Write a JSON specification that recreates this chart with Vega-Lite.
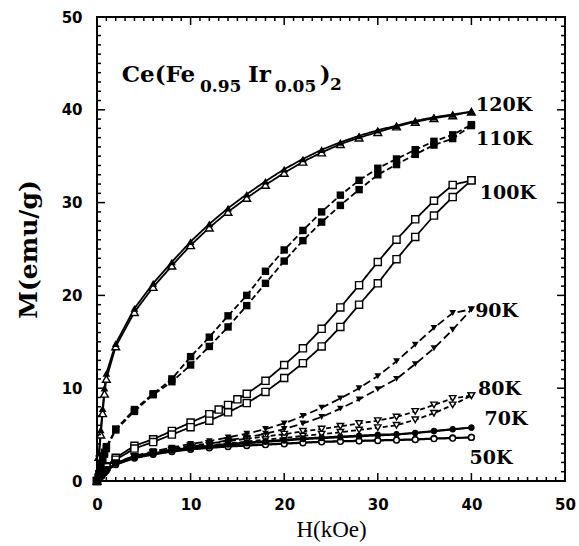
{
  "$schema": "https://vega.github.io/schema/vega-lite/v6.json",
  "width": 468,
  "height": 464,
  "autosize": "none",
  "padding": {"left": 97, "top": 17, "right": 14, "bottom": 65},
  "background": "white",
  "config": {
    "view": {"stroke": null},
    "axis": {"grid": false, "domain": false, "ticks": false, "labelColor": "black", "titleColor": "black", "labelFlush": false, "labelOverlap": false, "labelBound": false}
  },
  "datasets": {
    "mag": [
      {"T":"120K","b":"a","H":0,"M":0},{"T":"120K","b":"a","H":0.2,"M":3.0},{"T":"120K","b":"a","H":0.4,"M":5.5},{"T":"120K","b":"a","H":0.6,"M":7.8},{"T":"120K","b":"a","H":0.8,"M":10.0},{"T":"120K","b":"a","H":1,"M":11.6},{"T":"120K","b":"a","H":2,"M":14.8},{"T":"120K","b":"a","H":4,"M":18.6},{"T":"120K","b":"a","H":6,"M":21.3},{"T":"120K","b":"a","H":8,"M":23.6},{"T":"120K","b":"a","H":10,"M":25.8},{"T":"120K","b":"a","H":12,"M":27.7},{"T":"120K","b":"a","H":14,"M":29.4},{"T":"120K","b":"a","H":16,"M":30.9},{"T":"120K","b":"a","H":18,"M":32.3},{"T":"120K","b":"a","H":20,"M":33.6},{"T":"120K","b":"a","H":22,"M":34.7},{"T":"120K","b":"a","H":24,"M":35.7},{"T":"120K","b":"a","H":26,"M":36.5},{"T":"120K","b":"a","H":28,"M":37.2},{"T":"120K","b":"a","H":30,"M":37.8},{"T":"120K","b":"a","H":32,"M":38.3},{"T":"120K","b":"a","H":34,"M":38.8},{"T":"120K","b":"a","H":36,"M":39.2},{"T":"120K","b":"a","H":38,"M":39.5},{"T":"120K","b":"a","H":40,"M":39.8},
      {"T":"120K","b":"b","H":0,"M":0},{"T":"120K","b":"b","H":0.2,"M":2.6},{"T":"120K","b":"b","H":0.4,"M":5.0},{"T":"120K","b":"b","H":0.6,"M":7.3},{"T":"120K","b":"b","H":0.8,"M":9.4},{"T":"120K","b":"b","H":1,"M":11.0},{"T":"120K","b":"b","H":2,"M":14.5},{"T":"120K","b":"b","H":4,"M":18.2},{"T":"120K","b":"b","H":6,"M":20.9},{"T":"120K","b":"b","H":8,"M":23.2},{"T":"120K","b":"b","H":10,"M":25.4},{"T":"120K","b":"b","H":12,"M":27.3},{"T":"120K","b":"b","H":14,"M":29.0},{"T":"120K","b":"b","H":16,"M":30.5},{"T":"120K","b":"b","H":18,"M":31.9},{"T":"120K","b":"b","H":20,"M":33.2},{"T":"120K","b":"b","H":22,"M":34.4},{"T":"120K","b":"b","H":24,"M":35.4},{"T":"120K","b":"b","H":26,"M":36.3},{"T":"120K","b":"b","H":28,"M":37.0},{"T":"120K","b":"b","H":30,"M":37.6},{"T":"120K","b":"b","H":32,"M":38.2},{"T":"120K","b":"b","H":34,"M":38.7},{"T":"120K","b":"b","H":36,"M":39.1},{"T":"120K","b":"b","H":38,"M":39.4},{"T":"120K","b":"b","H":40,"M":39.8},
      {"T":"110K","b":"a","H":0,"M":0},{"T":"110K","b":"a","H":0.2,"M":0.8},{"T":"110K","b":"a","H":0.4,"M":1.6},{"T":"110K","b":"a","H":0.6,"M":2.4},{"T":"110K","b":"a","H":0.8,"M":3.1},{"T":"110K","b":"a","H":1,"M":3.7},{"T":"110K","b":"a","H":2,"M":5.6},{"T":"110K","b":"a","H":4,"M":7.7},{"T":"110K","b":"a","H":6,"M":9.4},{"T":"110K","b":"a","H":8,"M":11.0},{"T":"110K","b":"a","H":10,"M":13.4},{"T":"110K","b":"a","H":12,"M":15.5},{"T":"110K","b":"a","H":14,"M":17.8},{"T":"110K","b":"a","H":16,"M":20.0},{"T":"110K","b":"a","H":18,"M":22.6},{"T":"110K","b":"a","H":20,"M":24.9},{"T":"110K","b":"a","H":22,"M":27.0},{"T":"110K","b":"a","H":24,"M":29.0},{"T":"110K","b":"a","H":26,"M":30.8},{"T":"110K","b":"a","H":28,"M":32.4},{"T":"110K","b":"a","H":30,"M":33.7},{"T":"110K","b":"a","H":32,"M":34.7},{"T":"110K","b":"a","H":34,"M":35.7},{"T":"110K","b":"a","H":36,"M":36.6},{"T":"110K","b":"a","H":38,"M":37.3},{"T":"110K","b":"a","H":40,"M":38.4},
      {"T":"110K","b":"b","H":0,"M":0},{"T":"110K","b":"b","H":0.2,"M":0.7},{"T":"110K","b":"b","H":0.4,"M":1.5},{"T":"110K","b":"b","H":0.6,"M":2.2},{"T":"110K","b":"b","H":0.8,"M":2.9},{"T":"110K","b":"b","H":1,"M":3.5},{"T":"110K","b":"b","H":2,"M":5.5},{"T":"110K","b":"b","H":4,"M":7.5},{"T":"110K","b":"b","H":6,"M":9.3},{"T":"110K","b":"b","H":8,"M":10.7},{"T":"110K","b":"b","H":10,"M":12.5},{"T":"110K","b":"b","H":12,"M":14.5},{"T":"110K","b":"b","H":14,"M":16.6},{"T":"110K","b":"b","H":16,"M":18.9},{"T":"110K","b":"b","H":18,"M":21.3},{"T":"110K","b":"b","H":20,"M":23.7},{"T":"110K","b":"b","H":22,"M":25.9},{"T":"110K","b":"b","H":24,"M":27.9},{"T":"110K","b":"b","H":26,"M":29.7},{"T":"110K","b":"b","H":28,"M":31.4},{"T":"110K","b":"b","H":30,"M":33.0},{"T":"110K","b":"b","H":32,"M":34.1},{"T":"110K","b":"b","H":34,"M":35.2},{"T":"110K","b":"b","H":36,"M":36.2},{"T":"110K","b":"b","H":38,"M":36.9},{"T":"110K","b":"b","H":40,"M":38.3},
      {"T":"100K","b":"a","H":0,"M":0},{"T":"100K","b":"a","H":0.2,"M":0.4},{"T":"100K","b":"a","H":0.4,"M":0.8},{"T":"100K","b":"a","H":0.6,"M":1.1},{"T":"100K","b":"a","H":0.8,"M":1.4},{"T":"100K","b":"a","H":1,"M":1.6},{"T":"100K","b":"a","H":2,"M":2.5},{"T":"100K","b":"a","H":4,"M":3.8},{"T":"100K","b":"a","H":6,"M":4.5},{"T":"100K","b":"a","H":8,"M":5.4},{"T":"100K","b":"a","H":10,"M":6.3},{"T":"100K","b":"a","H":12,"M":7.2},{"T":"100K","b":"a","H":13,"M":7.7},{"T":"100K","b":"a","H":14,"M":8.2},{"T":"100K","b":"a","H":15,"M":8.8},{"T":"100K","b":"a","H":16,"M":9.4},{"T":"100K","b":"a","H":18,"M":10.8},{"T":"100K","b":"a","H":20,"M":12.5},{"T":"100K","b":"a","H":22,"M":14.3},{"T":"100K","b":"a","H":24,"M":16.4},{"T":"100K","b":"a","H":26,"M":18.7},{"T":"100K","b":"a","H":28,"M":21.1},{"T":"100K","b":"a","H":30,"M":23.6},{"T":"100K","b":"a","H":32,"M":26.0},{"T":"100K","b":"a","H":34,"M":28.2},{"T":"100K","b":"a","H":36,"M":30.2},{"T":"100K","b":"a","H":38,"M":31.9},{"T":"100K","b":"a","H":40,"M":32.4},
      {"T":"100K","b":"b","H":0,"M":0},{"T":"100K","b":"b","H":0.2,"M":0.35},{"T":"100K","b":"b","H":0.4,"M":0.7},{"T":"100K","b":"b","H":0.6,"M":1.0},{"T":"100K","b":"b","H":0.8,"M":1.3},{"T":"100K","b":"b","H":1,"M":1.5},{"T":"100K","b":"b","H":2,"M":2.3},{"T":"100K","b":"b","H":4,"M":3.5},{"T":"100K","b":"b","H":6,"M":4.2},{"T":"100K","b":"b","H":8,"M":5.0},{"T":"100K","b":"b","H":10,"M":5.8},{"T":"100K","b":"b","H":12,"M":6.5},{"T":"100K","b":"b","H":14,"M":7.4},{"T":"100K","b":"b","H":16,"M":8.4},{"T":"100K","b":"b","H":18,"M":9.6},{"T":"100K","b":"b","H":20,"M":11.1},{"T":"100K","b":"b","H":22,"M":12.7},{"T":"100K","b":"b","H":24,"M":14.5},{"T":"100K","b":"b","H":26,"M":16.6},{"T":"100K","b":"b","H":28,"M":19.0},{"T":"100K","b":"b","H":30,"M":21.3},{"T":"100K","b":"b","H":32,"M":23.9},{"T":"100K","b":"b","H":34,"M":26.3},{"T":"100K","b":"b","H":36,"M":28.6},{"T":"100K","b":"b","H":38,"M":30.6},{"T":"100K","b":"b","H":40,"M":32.4},
      {"T":"90K","b":"a","H":0,"M":0},{"T":"90K","b":"a","H":0.2,"M":0.3},{"T":"90K","b":"a","H":0.4,"M":0.6},{"T":"90K","b":"a","H":0.6,"M":0.9},{"T":"90K","b":"a","H":0.8,"M":1.1},{"T":"90K","b":"a","H":1,"M":1.3},{"T":"90K","b":"a","H":2,"M":2.0},{"T":"90K","b":"a","H":4,"M":2.7},{"T":"90K","b":"a","H":6,"M":3.2},{"T":"90K","b":"a","H":8,"M":3.6},{"T":"90K","b":"a","H":10,"M":4.0},{"T":"90K","b":"a","H":12,"M":4.3},{"T":"90K","b":"a","H":14,"M":4.7},{"T":"90K","b":"a","H":16,"M":5.1},{"T":"90K","b":"a","H":18,"M":5.6},{"T":"90K","b":"a","H":20,"M":6.2},{"T":"90K","b":"a","H":22,"M":7.0},{"T":"90K","b":"a","H":24,"M":7.9},{"T":"90K","b":"a","H":26,"M":8.9},{"T":"90K","b":"a","H":28,"M":10.0},{"T":"90K","b":"a","H":30,"M":11.3},{"T":"90K","b":"a","H":32,"M":12.9},{"T":"90K","b":"a","H":34,"M":14.7},{"T":"90K","b":"a","H":36,"M":16.5},{"T":"90K","b":"a","H":38,"M":18.1},{"T":"90K","b":"a","H":40,"M":18.5},
      {"T":"90K","b":"b","H":0,"M":0},{"T":"90K","b":"b","H":0.2,"M":0.3},{"T":"90K","b":"b","H":0.4,"M":0.55},{"T":"90K","b":"b","H":0.6,"M":0.85},{"T":"90K","b":"b","H":0.8,"M":1.05},{"T":"90K","b":"b","H":1,"M":1.25},{"T":"90K","b":"b","H":2,"M":1.9},{"T":"90K","b":"b","H":4,"M":2.6},{"T":"90K","b":"b","H":6,"M":3.0},{"T":"90K","b":"b","H":8,"M":3.4},{"T":"90K","b":"b","H":10,"M":3.7},{"T":"90K","b":"b","H":12,"M":4.0},{"T":"90K","b":"b","H":14,"M":4.4},{"T":"90K","b":"b","H":16,"M":4.7},{"T":"90K","b":"b","H":18,"M":5.1},{"T":"90K","b":"b","H":20,"M":5.6},{"T":"90K","b":"b","H":22,"M":6.2},{"T":"90K","b":"b","H":24,"M":6.9},{"T":"90K","b":"b","H":26,"M":7.8},{"T":"90K","b":"b","H":28,"M":8.8},{"T":"90K","b":"b","H":30,"M":9.9},{"T":"90K","b":"b","H":32,"M":11.0},{"T":"90K","b":"b","H":34,"M":12.6},{"T":"90K","b":"b","H":36,"M":14.3},{"T":"90K","b":"b","H":38,"M":16.3},{"T":"90K","b":"b","H":40,"M":18.5},
      {"T":"80K","b":"a","H":0,"M":0},{"T":"80K","b":"a","H":0.2,"M":0.3},{"T":"80K","b":"a","H":0.4,"M":0.6},{"T":"80K","b":"a","H":0.6,"M":0.85},{"T":"80K","b":"a","H":0.8,"M":1.05},{"T":"80K","b":"a","H":1,"M":1.25},{"T":"80K","b":"a","H":2,"M":1.95},{"T":"80K","b":"a","H":4,"M":2.65},{"T":"80K","b":"a","H":6,"M":3.1},{"T":"80K","b":"a","H":8,"M":3.45},{"T":"80K","b":"a","H":10,"M":3.8},{"T":"80K","b":"a","H":12,"M":4.05},{"T":"80K","b":"a","H":14,"M":4.3},{"T":"80K","b":"a","H":16,"M":4.55},{"T":"80K","b":"a","H":18,"M":4.8},{"T":"80K","b":"a","H":20,"M":5.05},{"T":"80K","b":"a","H":22,"M":5.35},{"T":"80K","b":"a","H":24,"M":5.6},{"T":"80K","b":"a","H":26,"M":5.9},{"T":"80K","b":"a","H":28,"M":6.2},{"T":"80K","b":"a","H":30,"M":6.5},{"T":"80K","b":"a","H":32,"M":6.9},{"T":"80K","b":"a","H":34,"M":7.5},{"T":"80K","b":"a","H":36,"M":8.2},{"T":"80K","b":"a","H":38,"M":8.9},{"T":"80K","b":"a","H":40,"M":9.2},
      {"T":"80K","b":"b","H":0,"M":0},{"T":"80K","b":"b","H":0.2,"M":0.3},{"T":"80K","b":"b","H":0.4,"M":0.55},{"T":"80K","b":"b","H":0.6,"M":0.8},{"T":"80K","b":"b","H":0.8,"M":1.0},{"T":"80K","b":"b","H":1,"M":1.2},{"T":"80K","b":"b","H":2,"M":1.9},{"T":"80K","b":"b","H":4,"M":2.6},{"T":"80K","b":"b","H":6,"M":3.0},{"T":"80K","b":"b","H":8,"M":3.3},{"T":"80K","b":"b","H":10,"M":3.6},{"T":"80K","b":"b","H":12,"M":3.85},{"T":"80K","b":"b","H":14,"M":4.05},{"T":"80K","b":"b","H":16,"M":4.25},{"T":"80K","b":"b","H":18,"M":4.45},{"T":"80K","b":"b","H":20,"M":4.65},{"T":"80K","b":"b","H":22,"M":4.85},{"T":"80K","b":"b","H":24,"M":5.05},{"T":"80K","b":"b","H":26,"M":5.25},{"T":"80K","b":"b","H":28,"M":5.5},{"T":"80K","b":"b","H":30,"M":5.75},{"T":"80K","b":"b","H":32,"M":6.0},{"T":"80K","b":"b","H":34,"M":6.6},{"T":"80K","b":"b","H":36,"M":7.3},{"T":"80K","b":"b","H":38,"M":8.2},{"T":"80K","b":"b","H":40,"M":9.2},
      {"T":"70K","b":"a","H":0,"M":0},{"T":"70K","b":"a","H":0.2,"M":0.3},{"T":"70K","b":"a","H":0.4,"M":0.55},{"T":"70K","b":"a","H":0.6,"M":0.8},{"T":"70K","b":"a","H":0.8,"M":1.0},{"T":"70K","b":"a","H":1,"M":1.2},{"T":"70K","b":"a","H":2,"M":1.9},{"T":"70K","b":"a","H":4,"M":2.6},{"T":"70K","b":"a","H":6,"M":3.0},{"T":"70K","b":"a","H":8,"M":3.35},{"T":"70K","b":"a","H":10,"M":3.6},{"T":"70K","b":"a","H":12,"M":3.8},{"T":"70K","b":"a","H":14,"M":4.0},{"T":"70K","b":"a","H":16,"M":4.15},{"T":"70K","b":"a","H":18,"M":4.3},{"T":"70K","b":"a","H":20,"M":4.45},{"T":"70K","b":"a","H":22,"M":4.6},{"T":"70K","b":"a","H":24,"M":4.7},{"T":"70K","b":"a","H":26,"M":4.8},{"T":"70K","b":"a","H":28,"M":4.9},{"T":"70K","b":"a","H":30,"M":5.0},{"T":"70K","b":"a","H":32,"M":5.05},{"T":"70K","b":"a","H":34,"M":5.2},{"T":"70K","b":"a","H":36,"M":5.4},{"T":"70K","b":"a","H":38,"M":5.6},{"T":"70K","b":"a","H":40,"M":5.75},
      {"T":"70K","b":"b","H":0,"M":0},{"T":"70K","b":"b","H":0.2,"M":0.28},{"T":"70K","b":"b","H":0.4,"M":0.52},{"T":"70K","b":"b","H":0.6,"M":0.76},{"T":"70K","b":"b","H":0.8,"M":0.96},{"T":"70K","b":"b","H":1,"M":1.15},{"T":"70K","b":"b","H":2,"M":1.85},{"T":"70K","b":"b","H":4,"M":2.5},{"T":"70K","b":"b","H":6,"M":2.9},{"T":"70K","b":"b","H":8,"M":3.25},{"T":"70K","b":"b","H":10,"M":3.5},{"T":"70K","b":"b","H":12,"M":3.7},{"T":"70K","b":"b","H":14,"M":3.9},{"T":"70K","b":"b","H":16,"M":4.05},{"T":"70K","b":"b","H":18,"M":4.2},{"T":"70K","b":"b","H":20,"M":4.35},{"T":"70K","b":"b","H":22,"M":4.5},{"T":"70K","b":"b","H":24,"M":4.6},{"T":"70K","b":"b","H":26,"M":4.7},{"T":"70K","b":"b","H":28,"M":4.8},{"T":"70K","b":"b","H":30,"M":4.9},{"T":"70K","b":"b","H":32,"M":5.0},{"T":"70K","b":"b","H":34,"M":5.15},{"T":"70K","b":"b","H":36,"M":5.35},{"T":"70K","b":"b","H":38,"M":5.55},{"T":"70K","b":"b","H":40,"M":5.75},
      {"T":"50K","b":"a","H":0,"M":0},{"T":"50K","b":"a","H":0.2,"M":0.3},{"T":"50K","b":"a","H":0.4,"M":0.5},{"T":"50K","b":"a","H":0.6,"M":0.75},{"T":"50K","b":"a","H":0.8,"M":0.95},{"T":"50K","b":"a","H":1,"M":1.15},{"T":"50K","b":"a","H":2,"M":1.8},{"T":"50K","b":"a","H":4,"M":2.5},{"T":"50K","b":"a","H":6,"M":2.9},{"T":"50K","b":"a","H":8,"M":3.2},{"T":"50K","b":"a","H":10,"M":3.45},{"T":"50K","b":"a","H":12,"M":3.6},{"T":"50K","b":"a","H":14,"M":3.75},{"T":"50K","b":"a","H":16,"M":3.85},{"T":"50K","b":"a","H":18,"M":3.95},{"T":"50K","b":"a","H":20,"M":4.05},{"T":"50K","b":"a","H":22,"M":4.15},{"T":"50K","b":"a","H":24,"M":4.25},{"T":"50K","b":"a","H":26,"M":4.3},{"T":"50K","b":"a","H":28,"M":4.35},{"T":"50K","b":"a","H":30,"M":4.4},{"T":"50K","b":"a","H":32,"M":4.45},{"T":"50K","b":"a","H":34,"M":4.5},{"T":"50K","b":"a","H":36,"M":4.6},{"T":"50K","b":"a","H":38,"M":4.65},{"T":"50K","b":"a","H":40,"M":4.7},
      {"T":"50K","b":"b","H":0,"M":0},{"T":"50K","b":"b","H":0.2,"M":0.27},{"T":"50K","b":"b","H":0.4,"M":0.47},{"T":"50K","b":"b","H":0.6,"M":0.7},{"T":"50K","b":"b","H":0.8,"M":0.9},{"T":"50K","b":"b","H":1,"M":1.1},{"T":"50K","b":"b","H":2,"M":1.75},{"T":"50K","b":"b","H":4,"M":2.45},{"T":"50K","b":"b","H":6,"M":2.85},{"T":"50K","b":"b","H":8,"M":3.15},{"T":"50K","b":"b","H":10,"M":3.4},{"T":"50K","b":"b","H":12,"M":3.55},{"T":"50K","b":"b","H":14,"M":3.7},{"T":"50K","b":"b","H":16,"M":3.8},{"T":"50K","b":"b","H":18,"M":3.9},{"T":"50K","b":"b","H":20,"M":4.0},{"T":"50K","b":"b","H":22,"M":4.1},{"T":"50K","b":"b","H":24,"M":4.2},{"T":"50K","b":"b","H":26,"M":4.25},{"T":"50K","b":"b","H":28,"M":4.3},{"T":"50K","b":"b","H":30,"M":4.35},{"T":"50K","b":"b","H":32,"M":4.4},{"T":"50K","b":"b","H":34,"M":4.45},{"T":"50K","b":"b","H":36,"M":4.55},{"T":"50K","b":"b","H":38,"M":4.6},{"T":"50K","b":"b","H":40,"M":4.7}
    ],
    "lab": [
      {"t":"120K","H":40.5,"M":40.5},
      {"t":"110K","H":40.5,"M":36.8},
      {"t":"100K","H":40.9,"M":31.0},
      {"t":"90K","H":40.4,"M":18.3},
      {"t":"80K","H":40.7,"M":9.9},
      {"t":"70K","H":41.4,"M":6.65},
      {"t":"50K","H":39.8,"M":2.45}
    ],
    "ttl": [
      {"t":"Ce(Fe","H":2.64,"M":43.0},
      {"t":"Ir","H":16.13,"M":43.0},
      {"t":")","H":23.8,"M":43.0}
    ],
    "sub": [
      {"t":"0.95","H":11.0,"M":41.87},
      {"t":"0.05","H":19.0,"M":41.87},
      {"t":"2","H":24.9,"M":42.15}
    ],
    "major": [{"v":0},{"v":10},{"v":20},{"v":30},{"v":40},{"v":50}],
    "minor": [{"v":1},{"v":2},{"v":3},{"v":4},{"v":5},{"v":6},{"v":7},{"v":8},{"v":9},{"v":11},{"v":12},{"v":13},{"v":14},{"v":15},{"v":16},{"v":17},{"v":18},{"v":19},{"v":21},{"v":22},{"v":23},{"v":24},{"v":25},{"v":26},{"v":27},{"v":28},{"v":29},{"v":31},{"v":32},{"v":33},{"v":34},{"v":35},{"v":36},{"v":37},{"v":38},{"v":39},{"v":41},{"v":42},{"v":43},{"v":44},{"v":45},{"v":46},{"v":47},{"v":48},{"v":49}]
  },
  "layer": [
    {
      "data": {"name": "mag"},
      "mark": {"type": "line", "color": "black", "strokeWidth": 1.8},
      "encoding": {
        "x": {"field": "H", "type": "quantitative", "scale": {"domain": [0, 50], "nice": false, "zero": false},
          "axis": {"orient": "bottom", "values": [0,10,20,30,40,50], "domain": false, "ticks": false, "labelFont": "DejaVu Sans", "labelFontWeight": "bold", "labelFontSize": 15, "labelPadding": 16, "title": "H(kOe)", "titleFont": "Liberation Serif", "titleFontWeight": "normal", "titleFontSize": 23, "titlePadding": 6}},
        "y": {"field": "M", "type": "quantitative", "scale": {"domain": [0, 50], "nice": false, "zero": false},
          "axis": {"orient": "left", "values": [0,10,20,30,40,50], "domain": false, "ticks": false, "labelFont": "DejaVu Sans", "labelFontWeight": "bold", "labelFontSize": 15, "labelPadding": 15, "title": "M(emu/g)", "titleFont": "DejaVu Serif", "titleFontWeight": "bold", "titleFontSize": 25, "titlePadding": 20}},
        "detail": [{"field": "T"}, {"field": "b"}],
        "strokeDash": {"field": "T", "type": "nominal", "legend": null,
          "scale": {"domain": ["120K","110K","100K","90K","80K","70K","50K"], "range": [[1,0],[6,3],[1,0],[8,4],[5,3],[1,0],[1,0]]}}
      }
    },
    {
      "data": {"name": "mag"},
      "transform": [{"filter": "!((datum.T=='120K'&&datum.b=='a')||datum.T=='110K'||datum.T=='90K'||datum.T=='70K')"}],
      "mark": {"type": "point", "filled": true, "fill": "white", "stroke": "black", "strokeWidth": 1.4, "opacity": 1},
      "encoding": {
        "x": {"field": "H", "type": "quantitative"},
        "y": {"field": "M", "type": "quantitative"},
        "shape": {"field": "T", "type": "nominal", "legend": null,
          "scale": {"domain": ["120K","110K","100K","90K","80K","70K","50K"], "range": ["triangle-up","square","square","triangle-down","triangle-down","circle","circle"]}},
        "size": {"field": "T", "type": "nominal", "legend": null,
          "scale": {"domain": ["120K","110K","100K","90K","80K","70K","50K"], "range": [60,32,50,34,50,36,40]}}
      }
    },
    {
      "data": {"name": "mag"},
      "transform": [{"filter": "(datum.T=='120K'&&datum.b=='a')||datum.T=='110K'||datum.T=='90K'||datum.T=='70K'"}],
      "mark": {"type": "point", "filled": true, "color": "black", "opacity": 1},
      "encoding": {
        "x": {"field": "H", "type": "quantitative"},
        "y": {"field": "M", "type": "quantitative"},
        "shape": {"field": "T", "type": "nominal", "legend": null},
        "size": {"field": "T", "type": "nominal", "legend": null}
      }
    },
    {
      "data": {"name": "lab"},
      "mark": {"type": "text", "align": "left", "baseline": "middle", "font": "DejaVu Serif", "fontWeight": "bold", "fontSize": 19, "color": "black"},
      "encoding": {
        "x": {"field": "H", "type": "quantitative"},
        "y": {"field": "M", "type": "quantitative"},
        "text": {"field": "t"}
      }
    },
    {
      "data": {"name": "ttl"},
      "mark": {"type": "text", "align": "left", "baseline": "alphabetic", "font": "DejaVu Serif", "fontWeight": "bold", "fontSize": 23, "color": "black"},
      "encoding": {
        "x": {"field": "H", "type": "quantitative"},
        "y": {"field": "M", "type": "quantitative"},
        "text": {"field": "t"}
      }
    },
    {
      "data": {"name": "sub"},
      "mark": {"type": "text", "align": "left", "baseline": "alphabetic", "font": "DejaVu Serif", "fontWeight": "bold", "fontSize": 17, "color": "black"},
      "encoding": {
        "x": {"field": "H", "type": "quantitative"},
        "y": {"field": "M", "type": "quantitative"},
        "text": {"field": "t"}
      }
    },
    {
      "data": {"name": "major"},
      "mark": {"type": "tick", "orient": "vertical", "size": 8, "thickness": 1.5, "color": "black", "opacity": 1, "yOffset": -4},
      "encoding": {"x": {"field": "v", "type": "quantitative"}, "y": {"datum": 0, "type": "quantitative"}}
    },
    {
      "data": {"name": "major"},
      "mark": {"type": "tick", "orient": "vertical", "size": 8, "thickness": 1.5, "color": "black", "opacity": 1, "yOffset": 4},
      "encoding": {"x": {"field": "v", "type": "quantitative"}, "y": {"datum": 50, "type": "quantitative"}}
    },
    {
      "data": {"name": "minor"},
      "mark": {"type": "tick", "orient": "vertical", "size": 4, "thickness": 1.5, "color": "black", "opacity": 1, "yOffset": -2},
      "encoding": {"x": {"field": "v", "type": "quantitative"}, "y": {"datum": 0, "type": "quantitative"}}
    },
    {
      "data": {"name": "minor"},
      "mark": {"type": "tick", "orient": "vertical", "size": 4, "thickness": 1.5, "color": "black", "opacity": 1, "yOffset": 2},
      "encoding": {"x": {"field": "v", "type": "quantitative"}, "y": {"datum": 50, "type": "quantitative"}}
    },
    {
      "data": {"name": "major"},
      "mark": {"type": "tick", "orient": "horizontal", "size": 8, "thickness": 1.5, "color": "black", "opacity": 1, "xOffset": 4},
      "encoding": {"y": {"field": "v", "type": "quantitative"}, "x": {"datum": 0, "type": "quantitative"}}
    },
    {
      "data": {"name": "major"},
      "mark": {"type": "tick", "orient": "horizontal", "size": 8, "thickness": 1.5, "color": "black", "opacity": 1, "xOffset": -4},
      "encoding": {"y": {"field": "v", "type": "quantitative"}, "x": {"datum": 50, "type": "quantitative"}}
    },
    {
      "data": {"name": "minor"},
      "mark": {"type": "tick", "orient": "horizontal", "size": 4, "thickness": 1.5, "color": "black", "opacity": 1, "xOffset": 2},
      "encoding": {"y": {"field": "v", "type": "quantitative"}, "x": {"datum": 0, "type": "quantitative"}}
    },
    {
      "data": {"name": "minor"},
      "mark": {"type": "tick", "orient": "horizontal", "size": 4, "thickness": 1.5, "color": "black", "opacity": 1, "xOffset": -2},
      "encoding": {"y": {"field": "v", "type": "quantitative"}, "x": {"datum": 50, "type": "quantitative"}}
    },
    {
      "data": {"values": [{}]},
      "mark": {"type": "rect", "filled": false, "stroke": "black", "strokeWidth": 2, "opacity": 1},
      "encoding": {
        "x": {"datum": 0, "type": "quantitative"}, "x2": {"datum": 50},
        "y": {"datum": 0, "type": "quantitative"}, "y2": {"datum": 50}
      }
    }
  ]
}
